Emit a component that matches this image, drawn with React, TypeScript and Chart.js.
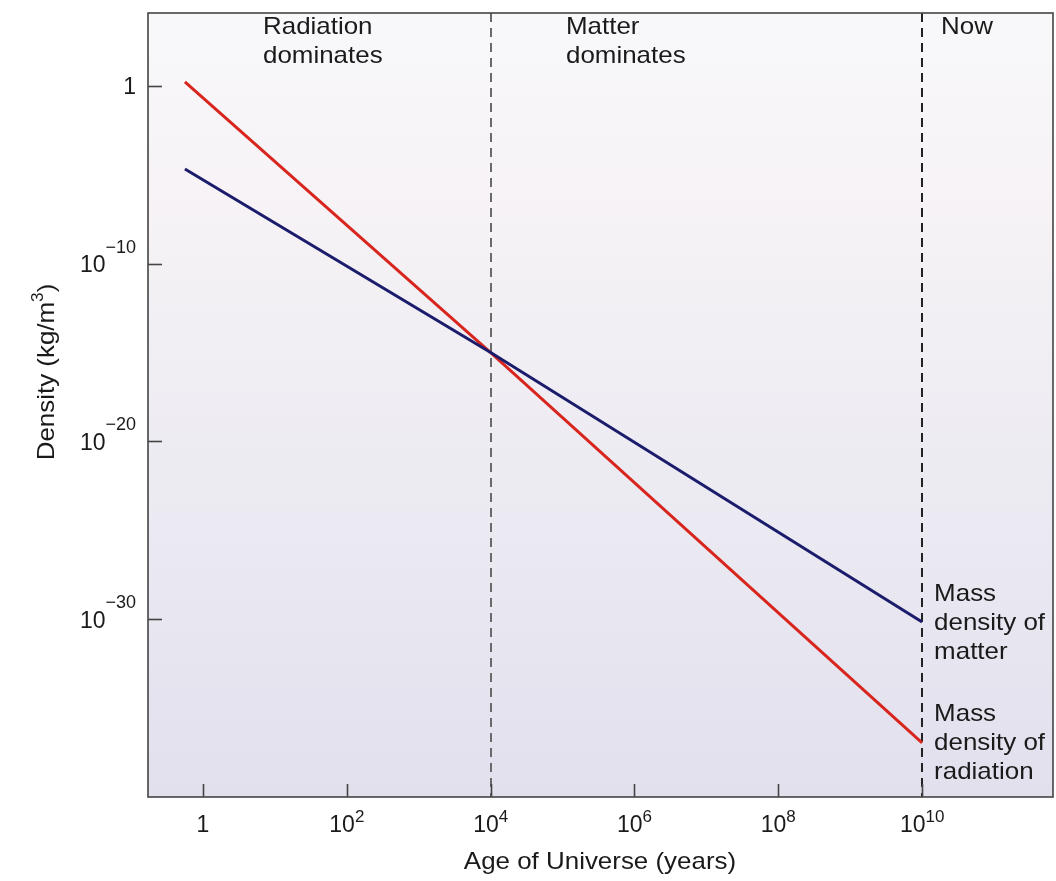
import { useEffect, useRef } from "react";
import { Chart, registerables } from "chart.js";

Chart.register(...registerables);

// ---- data ----
const ages = [0.56, 1e4, 1e10];
const radiationDensity = [1.7, 1e-15, 1.1e-37];
const matterDensity = [2.1e-5, 1e-15, 7e-31];

const xTickValues = [1, 1e2, 1e4, 1e6, 1e8, 1e10];
const xTickBase = ["1", "10", "10", "10", "10", "10"];
const xTickExp = ["", "2", "4", "6", "8", "10"];

const yTickValues = [1, 1e-10, 1e-20, 1e-30];
const yTickBase = ["1", "10", "10", "10"];
const yTickExp = ["", "\u221210", "\u221220", "\u221230"];

const eraBoundaries = [1e4, 1e10];
const eraBoundaryColors = ["#6a6a6a", "#222222"];

const FONT = '"Liberation Sans", Arial, Helvetica, sans-serif';
const TEXT = "#1a1a1a";
const STRETCH = 1.08;

function stretchedText(
  ctx: CanvasRenderingContext2D,
  s: string,
  x: number,
  y: number,
  size: number,
  align: "left" | "center" | "right" = "left"
) {
  ctx.save();
  ctx.font = `${size}px ${FONT}`;
  ctx.textBaseline = "middle";
  ctx.textAlign = "left";
  const w = ctx.measureText(s).width * STRETCH;
  let x0 = x;
  if (align === "center") x0 = x - w / 2;
  if (align === "right") x0 = x - w;
  ctx.translate(x0, y);
  ctx.scale(STRETCH, 1);
  ctx.fillText(s, 0, 0);
  ctx.restore();
}

function supLabel(
  ctx: CanvasRenderingContext2D,
  base: string,
  exp: string,
  x: number,
  y: number,
  align: "center" | "right",
  baseSize: number,
  expSize: number,
  expRise: number
) {
  ctx.save();
  ctx.fillStyle = TEXT;
  ctx.textBaseline = "middle";
  ctx.textAlign = "left";
  ctx.font = `${baseSize}px ${FONT}`;
  const bw = ctx.measureText(base).width;
  ctx.font = `${expSize}px ${FONT}`;
  const ew = exp ? ctx.measureText(exp).width : 0;
  const total = bw + ew;
  const x0 = align === "center" ? x - total / 2 : x - total;
  ctx.font = `${baseSize}px ${FONT}`;
  ctx.fillText(base, x0, y);
  if (exp) {
    ctx.font = `${expSize}px ${FONT}`;
    ctx.fillText(exp, x0 + bw, y - expRise);
  }
  ctx.restore();
}

const decorPlugin = {
  id: "decor",
  beforeDraw(chart: any) {
    const { ctx, chartArea: a } = chart;
    ctx.save();
    const g = ctx.createLinearGradient(0, a.top, 0, a.bottom);
    g.addColorStop(0, "#f8f8fb");
    g.addColorStop(0.22, "#f7f3f6");
    g.addColorStop(0.5, "#efedf3");
    g.addColorStop(1, "#e2e0ed");
    ctx.fillStyle = g;
    ctx.fillRect(a.left, a.top, a.right - a.left, a.bottom - a.top);
    ctx.restore();
  },
  beforeDatasetsDraw(chart: any) {
    const { ctx, chartArea: a, scales } = chart;
    ctx.save();
    ctx.lineWidth = 2;
    ctx.setLineDash([9, 6]);
    eraBoundaries.forEach((v, i) => {
      const px = Math.round(scales.x.getPixelForValue(v));
      ctx.strokeStyle = eraBoundaryColors[i];
      ctx.beginPath();
      ctx.moveTo(px, a.top);
      ctx.lineTo(px, a.bottom);
      ctx.stroke();
    });
    ctx.restore();
  },
  afterDraw(chart: any) {
    const { ctx, chartArea: a, scales } = chart;
    const xs = scales.x;
    const ys = scales.y;
    ctx.save();
    // frame
    ctx.strokeStyle = "#444444";
    ctx.lineWidth = 1.6;
    ctx.strokeRect(a.left, a.top, a.right - a.left, a.bottom - a.top);
    // inward ticks
    ctx.lineWidth = 1.6;
    xTickValues.forEach((v) => {
      const px = Math.round(xs.getPixelForValue(v)) + 0.5;
      ctx.beginPath();
      ctx.moveTo(px, a.bottom);
      ctx.lineTo(px, a.bottom - 13);
      ctx.stroke();
    });
    yTickValues.forEach((v) => {
      const py = Math.round(ys.getPixelForValue(v)) + 0.5;
      ctx.beginPath();
      ctx.moveTo(a.left, py);
      ctx.lineTo(a.left + 14, py);
      ctx.stroke();
    });
    ctx.restore();

    // tick labels
    xTickValues.forEach((v, i) => {
      const px = xs.getPixelForValue(v);
      supLabel(ctx, xTickBase[i], xTickExp[i], px, a.bottom + 29, "center", 23, 17, 9);
    });
    yTickValues.forEach((v, i) => {
      const py = ys.getPixelForValue(v);
      supLabel(ctx, yTickBase[i], yTickExp[i], a.left - 12, py + 2, "right", 23, 18, 18);
    });

    ctx.save();
    ctx.fillStyle = TEXT;
    // axis titles
    stretchedText(ctx, "Age of Universe (years)", 600, 862, 24, "center");

    // y title rotated
    ctx.save();
    ctx.translate(47, 372);
    ctx.rotate(-Math.PI / 2);
    ctx.font = `24px ${FONT}`;
    const p1 = "Density (kg/m";
    const p2 = "3";
    const p3 = ")";
    const w1 = ctx.measureText(p1).width * STRETCH;
    ctx.font = `16px ${FONT}`;
    const w2 = ctx.measureText(p2).width * STRETCH;
    ctx.font = `24px ${FONT}`;
    const w3 = ctx.measureText(p3).width * STRETCH;
    const tot = w1 + w2 + w3;
    let cx = -tot / 2;
    stretchedText(ctx, p1, cx, 0, 24, "left");
    cx += w1;
    stretchedText(ctx, p2, cx, -8, 16, "left");
    cx += w2;
    stretchedText(ctx, p3, cx, 0, 24, "left");
    ctx.restore();

    // era labels
    stretchedText(ctx, "Radiation", 263, 27, 24);
    stretchedText(ctx, "dominates", 263, 56, 24);
    stretchedText(ctx, "Matter", 566, 27, 24);
    stretchedText(ctx, "dominates", 566, 56, 24);
    stretchedText(ctx, "Now", 941, 27, 24);

    // end labels
    const bx = xs.getPixelForValue(eraBoundaries[1]) + 12;
    const mEnd = ys.getPixelForValue(matterDensity[matterDensity.length - 1]);
    const rEnd = ys.getPixelForValue(radiationDensity[radiationDensity.length - 1]);
    stretchedText(ctx, "Mass", bx, mEnd - 28, 24);
    stretchedText(ctx, "density of", bx, mEnd + 1, 24);
    stretchedText(ctx, "matter", bx, mEnd + 30, 24);
    stretchedText(ctx, "Mass", bx, rEnd - 29, 24);
    stretchedText(ctx, "density of", bx, rEnd, 24);
    stretchedText(ctx, "radiation", bx, rEnd + 29, 24);
    ctx.restore();
  },
};

export default function App() {
  const ref = useRef<HTMLCanvasElement | null>(null);
  useEffect(() => {
    if (!ref.current) return;
    const chart = new Chart(ref.current, {
      type: "scatter",
      data: {
        datasets: [
          {
            label: "Mass density of matter",
            data: ages.map((x, i) => ({ x, y: matterDensity[i] })),
            showLine: true,
            borderColor: "#1b1d6c",
            borderWidth: 3,
            pointRadius: 0,
            fill: false,
          },
          {
            label: "Mass density of radiation",
            data: ages.map((x, i) => ({ x, y: radiationDensity[i] })),
            showLine: true,
            borderColor: "#d8261e",
            borderWidth: 3,
            pointRadius: 0,
            fill: false,
          },
        ],
      },
      options: {
        responsive: false,
        animation: false,
        layout: { padding: { left: 148, top: 13, right: 3, bottom: 84 } },
        plugins: { legend: { display: false }, tooltip: { enabled: false } },
        scales: {
          x: { type: "logarithmic", min: Math.pow(10, -0.765), max: Math.pow(10, 11.82), display: false },
          y: { type: "logarithmic", min: 1e-40, max: Math.pow(10, 4.1), display: false },
        },
      },
      plugins: [decorPlugin],
    });
    return () => chart.destroy();
  }, []);
  return (
    <div style={{ position: "fixed", left: 0, top: 0, width: 1056, height: 881, background: "#ffffff" }}>
      <canvas ref={ref} width={1056} height={881} />
    </div>
  );
}
